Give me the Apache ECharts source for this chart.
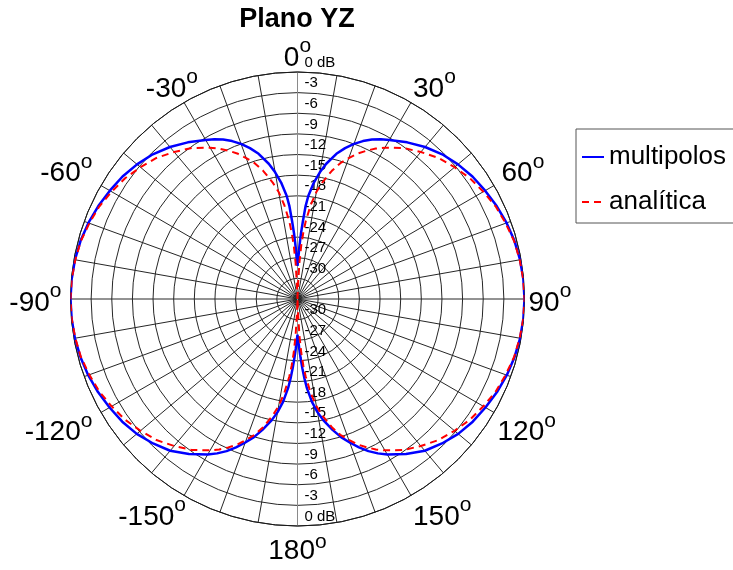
<!DOCTYPE html>
<html>
<head>
<meta charset="utf-8">
<title>Plano YZ</title>
<script src="https://cdn.jsdelivr.net/npm/echarts/dist/echarts.min.js"></script>
<style>
  html, body { margin: 0; padding: 0; background: #ffffff; }
  #chart { width: 733px; height: 570px; }
</style>
</head>
<body>
<div id="chart"></div>
<script>
// Angle off the z axis (degrees) for every tabulated pattern value
const offAxisDeg = [0, 1, 2, 3, 4, 5, 6, 8, 10, 12, 15, 17.5, 20, 22.5, 25, 27.5, 30, 35, 40, 45, 50, 55, 60, 65, 70, 75, 80, 85, 90];

// Analytical pattern (dB), identical next to both nulls
const analiticaDb = [-33, -33, -31.3, -27.7, -25.2, -23.3, -21.7, -19.2, -17.2, -15.7, -13.7, -12.3, -11.2, -10.1, -9.2, -8.35, -7.6, -6.2, -5.1, -4.0, -3.2, -2.4, -1.8, -1.2, -0.8, -0.4, -0.2, -0.05, 0];

// Multipole result (dB): lobes next to the 0° null and next to the 180° null
const multipolosUpperDb = [-28.2, -27.3, -25.5, -23.5, -21.6, -19.4, -17.9, -15.9, -14.3, -12.9, -11.15, -10.0, -9.0, -8.15, -7.4, -6.8, -6.3, -5.2, -4.15, -3.25, -2.55, -1.95, -1.5, -1.05, -0.65, -0.35, -0.15, -0.04, 0];
const multipolosLowerDb = [-27.8, -27.0, -25.8, -24.4, -22.9, -21.4, -20.0, -17.9, -16.3, -15.0, -13.3, -11.95, -10.8, -9.65, -8.6, -7.7, -6.9, -5.5, -4.2, -3.3, -2.5, -1.9, -1.45, -1.0, -0.62, -0.34, -0.14, -0.04, 0];

// Tick labels
const angleLabels = ['0', '30', '60', '90', '120', '150', '180', '-150', '-120', '-90', '-60', '-30'];
const ringLabels = ['0 dB', '-3', '-6', '-9', '-12', '-15', '-18', '-21', '-24', '-27', '-30', ''];

const FONT = 'Liberation Sans, Arial, Helvetica, sans-serif';
const DB_MIN = -33, DB_MAX = 0, DB_STEP = 3;

// Closed loop over the full circle: right half from the tables, left half mirrored
function buildLoop(upper, lower) {
  const right = [];
  offAxisDeg.forEach((a, i) => right.push([upper[i], a]));
  for (let i = offAxisDeg.length - 2; i >= 0; i--) right.push([lower[i], 180 - offAxisDeg[i]]);
  const left = [];
  for (let i = right.length - 2; i >= 0; i--) left.push([right[i][0], 360 - right[i][1]]);
  return right.concat(left);
}

const multipolosData = buildLoop(multipolosUpperDb, multipolosLowerDb);
const analiticaData = buildLoop(analiticaDb, analiticaDb);

const chart = echarts.init(document.getElementById('chart'), null, { renderer: 'canvas' });

const CENTER = [297.5, 299];
const RADIUS = 227;

function ringLabel(v) {
  const idx = Math.round((DB_MAX - v) / DB_STEP);
  return ringLabels[idx] !== undefined ? ringLabels[idx] : '';
}

// Rich-text style pairs for the angle labels (digits + raised degree "o")
const labelStyleFor = {
  '-30': ['n', 'sA'],
  '-150': ['n', 'sB'],
  '-120': ['n', 'sC'],
  '-90': ['n', 'sC'],
  '-60': ['n', 'sE'],
  '60': ['nF', 's'],
  '180': ['nD', 'sD']
};

function digits(extra) {
  return Object.assign({ fontFamily: FONT, fontSize: 28, lineHeight: 28, padding: [8, 0, 0, 0], color: '#000000' }, extra || {});
}
function degree(extra) {
  return Object.assign({ fontFamily: FONT, fontSize: 21, lineHeight: 21, verticalAlign: 'top', padding: [-4, 0, 0, 0], color: '#000000' }, extra || {});
}

const ringAxisCommon = {
  type: 'value',
  min: DB_MIN,
  max: DB_MAX,
  interval: DB_STEP,
  axisTick: { show: false },
  axisLine: { show: true, lineStyle: { color: '#8a8a8a', width: 1 } },
  splitArea: { show: false }
};

const ringLabelCommon = {
  align: 'left',
  verticalAlign: 'bottom',
  padding: [0, 0, 2, 0],
  fontFamily: FONT,
  fontSize: 15,
  color: '#000000',
  formatter: ringLabel
};

chart.setOption({
  animation: false,
  backgroundColor: '#ffffff',
  title: {
    text: 'Plano YZ',
    left: 297,
    top: 6,
    padding: 0,
    textAlign: 'center',
    textStyle: { fontFamily: FONT, fontSize: 27, fontWeight: 'bold', color: '#000000' }
  },
  legend: {
    orient: 'vertical',
    left: 576,
    top: 129,
    padding: [13, 20, 6, 5],
    itemGap: 15,
    itemWidth: 22,
    itemHeight: 14,
    borderColor: '#555555',
    borderWidth: 1,
    backgroundColor: '#ffffff',
    itemStyle: { opacity: 0 },
    textStyle: { fontFamily: FONT, fontSize: 26, color: '#000000', lineHeight: 30 },
    data: ['multipolos', 'analítica']
  },
  polar: [
    { center: CENTER, radius: RADIUS },
    { center: CENTER, radius: RADIUS }
  ],
  angleAxis: [
    {
      polarIndex: 0,
      type: 'value',
      min: 0,
      max: 360,
      interval: 10,
      startAngle: 90,
      clockwise: true,
      axisLine: { show: true, lineStyle: { color: '#1a1a1a', width: 1 } },
      axisTick: { show: false },
      splitLine: { show: true, lineStyle: { color: '#262626', width: 1 } },
      axisLabel: {
        margin: 4,
        color: '#000000',
        formatter: function (v) {
          if (v % 30 !== 0 || v >= 360) return '';
          const text = angleLabels[v / 30];
          const st = labelStyleFor[text] || ['n', 's'];
          return '{' + st[0] + '|' + text + '}{' + st[1] + '|o}';
        },
        rich: {
          n: digits(),
          s: degree(),
          sA: degree({ padding: [-4, -16, 0, 0] }),
          sB: degree({ padding: [-4, -4, 0, 0] }),
          sC: degree({ padding: [-4, 5, 0, 0] }),
          sE: degree({ padding: [-4, 5, 0, 0] }),
          nF: digits({ padding: [8, 0, 0, 4] }),
          nD: digits({ padding: [14, 0, 0, 0] }),
          sD: degree({ padding: [2, 0, 0, 0] })
        }
      }
    },
    {
      polarIndex: 1,
      type: 'value',
      min: 0,
      max: 360,
      startAngle: 270,
      clockwise: true,
      show: false
    }
  ],
  radiusAxis: [
    Object.assign({}, ringAxisCommon, {
      polarIndex: 0,
      splitLine: { show: true, lineStyle: { color: '#262626', width: 1 } },
      axisLabel: Object.assign({}, ringLabelCommon, { margin: -7 })
    }),
    Object.assign({}, ringAxisCommon, {
      polarIndex: 1,
      splitLine: { show: false },
      axisLabel: Object.assign({}, ringLabelCommon, { margin: 7 })
    })
  ],
  series: [
    {
      name: 'multipolos',
      type: 'line',
      coordinateSystem: 'polar',
      polarIndex: 0,
      data: multipolosData,
      symbol: 'none',
      smooth: false,
      clip: false,
      z: 3,
      color: '#0000ff',
      lineStyle: { color: '#0000ff', width: 2.5 }
    },
    {
      name: 'analítica',
      type: 'line',
      coordinateSystem: 'polar',
      polarIndex: 0,
      data: analiticaData,
      symbol: 'none',
      smooth: false,
      clip: false,
      z: 4,
      color: '#ff0000',
      lineStyle: { color: '#ff0000', width: 2, type: [7, 5] }
    }
  ]
});
</script>
</body>
</html>
